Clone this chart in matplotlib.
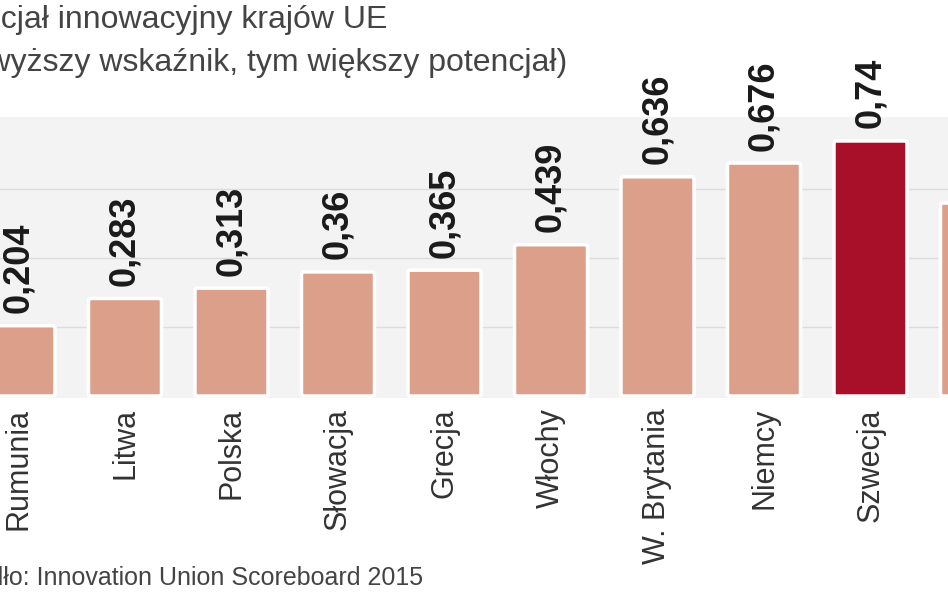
import matplotlib
matplotlib.use("Agg")
import matplotlib.pyplot as plt
from matplotlib.patches import FancyBboxPatch

countries = ["Rumunia", "Litwa", "Polska", "Słowacja", "Grecja", "Włochy", "W. Brytania", "Niemcy", "Szwecja", ""]
values = [0.204, 0.283, 0.313, 0.36, 0.365, 0.439, 0.636, 0.676, 0.74, 0.56]
labels = ["0,204", "0,283", "0,313", "0,36", "0,365", "0,439", "0,636", "0,676", "0,74", ""]
highlight = "Szwecja"

W, H = 948, 593
fig = plt.figure(figsize=(W/100, H/100), dpi=100)
fig.patch.set_facecolor("white")
step = 106.5
x0 = 18.5
ax = fig.add_axes([0, (H-398)/H, 1, (398-117)/H])
ax.set_facecolor("#f3f3f3")
scale = 344.6
ax.set_ylim(-2/scale, 279/scale)
ax.set_xlim(-x0/step, (W-x0)/step)
for g in [0.2, 0.4, 0.6]:
    ax.axhline(g, color="#dcdcdc", lw=1, zorder=0)
for s in ax.spines.values():
    s.set_visible(False)
ax.set_xticks([]); ax.set_yticks([])

bw = 73/step
for i, (c, v, l) in enumerate(zip(countries, values, labels)):
    col = "#a8102a" if c == highlight else "#dca08a"
    p = FancyBboxPatch((i-bw/2, 0), bw, v, boxstyle="round,pad=0,rounding_size=0.02",
                       mutation_aspect=1/(scale/step),
                       fc=col, ec="white", lw=2.5, zorder=2)
    ax.add_patch(p)
    if l:
        ax.annotate(l, (i, v), xytext=(0, 9), textcoords="offset points",
                    rotation=90, ha="center", va="bottom", fontsize=26,
                    fontweight="bold", family="Liberation Sans", color="#1a1a1a",
                    annotation_clip=False)
    if c:
        xf = (x0 + i*step)/W
        fig.text(xf, 1-408/H, c, rotation=90, ha="center", va="top",
                 fontsize=22, family="Liberation Sans", color="#333333")

fig.text(387/W, 1-20/H, "Potencjał innowacyjny krajów UE", ha="right", va="center",
         fontsize=23, family="Liberation Sans", color="#444444")
fig.text(567/W, 1-63/H, "(im wyższy wskaźnik, tym większy potencjał)", ha="right", va="center",
         fontsize=23, family="Liberation Sans", color="#444444")
fig.text(423/W, 1-578/H, "Źródło: Innovation Union Scoreboard 2015", ha="right", va="center",
         fontsize=18, family="Liberation Sans", color="#444444")
fig.savefig("out.png", dpi=100)
